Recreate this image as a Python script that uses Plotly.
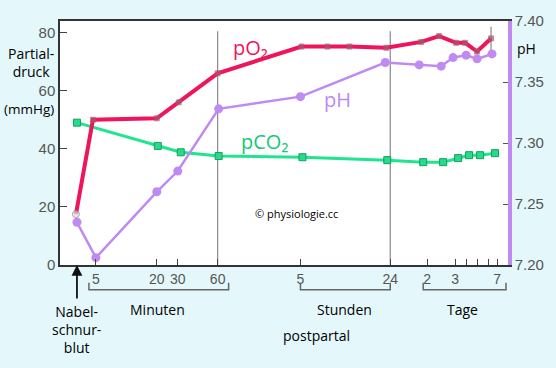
import plotly.graph_objects as go

# Compressed time axis positions (custom scale units)
tick_pos = [36, 97, 118, 158, 241, 331, 368, 396, 407, 418, 429, 438]
tick_txt = ["5", "20", "30", "60", "5", "24", "2", "3", "", "", "", "7"]
nabel_pos = 17
guide_lines = [158, 331]

# pO2 (mmHg)
po2_x = [16, 33, 97, 119, 158, 242, 268, 290, 327, 362, 380, 397, 406, 418, 432]
po2_y = [17.5, 50, 50.5, 56, 66, 75.2, 75.2, 75.2, 74.8, 76.8, 78.8, 76.5, 76.5, 73.5, 78]

# pH
ph_x = [17, 36, 97, 118, 159, 241, 326, 360, 382, 394, 407, 418, 433]
ph_y = [7.235, 7.206, 7.260, 7.277, 7.328, 7.338, 7.366, 7.364, 7.363, 7.370, 7.372, 7.369, 7.373]

# pCO2 (mmHg)
pco2_x = [17, 98, 121, 159, 243, 328, 364, 384, 399, 410, 421, 436]
pco2_y = [49, 41, 38.8, 37.5, 37.1, 36.1, 35.4, 35.4, 36.8, 37.8, 37.8, 38.5]

left_ticks = [0, 20, 40, 60, 80]
right_ticks = [7.20, 7.25, 7.30, 7.35, 7.40]

RED = "#f0145a"
PURPLE = "#bf8af2"
GREEN = "#1fe58f"
BG = "#e4f8fb"
FONT = "Open Sans"

fig = go.Figure()

fig.add_trace(go.Scatter(
    x=pco2_x, y=pco2_y, mode="lines+markers",
    line=dict(color=GREEN, width=3),
    marker=dict(symbol="square", size=7, color="#2ad98a", line=dict(color="#12a060", width=1)),
    showlegend=False))

fig.add_trace(go.Scatter(
    x=ph_x, y=ph_y, mode="lines+markers", yaxis="y2",
    line=dict(color=PURPLE, width=2.5),
    marker=dict(symbol="circle", size=9, color=PURPLE),
    showlegend=False))

po2_sym = ["circle"] + ["square"] * (len(po2_x) - 1)
po2_col = ["#dddddd"] + ["#a8566e"] * (len(po2_x) - 1)
po2_lc = ["#888888"] + ["#a8566e"] * (len(po2_x) - 1)
fig.add_trace(go.Scatter(
    x=po2_x, y=po2_y, mode="lines+markers",
    line=dict(color=RED, width=4),
    marker=dict(symbol=po2_sym, size=[7] + [5] * (len(po2_x) - 1), color=po2_col,
                line=dict(color=po2_lc, width=1)),
    showlegend=False))

shapes = []
for gx in guide_lines:
    shapes.append(dict(type="line", xref="x", yref="y", x0=gx, x1=gx, y0=0, y1=80.5,
                       line=dict(color="#8a8a8a", width=1.2), layer="below"))
shapes.append(dict(type="line", xref="x", yref="y", x0=po2_x[-1], x1=po2_x[-1], y0=73, y1=82,
                   line=dict(color="#8a8a8a", width=1.2), layer="below"))

def bracket(x0, x1):
    return dict(type="path", xref="x", yref="paper",
                path=f"M {x0},-0.073 L {x0},-0.101 L {x1},-0.101 L {x1},-0.073",
                line=dict(color="#666666", width=1.5))

shapes += [bracket(29, 169), bracket(241, 331), bracket(364, 447)]

def py(p):
    return (265 - p) / 248

def px(p):
    return (p - 60) / 449

def ann(text, x, y, size=14, color="black", xref="x", yref="paper"):
    return dict(text=text, x=x, y=y, xref=xref, yref=yref, showarrow=False,
                xanchor="center", yanchor="middle",
                font=dict(family=FONT, size=size, color=color))

annotations = [
    ann("Minuten", 98, py(310)),
    ann("Stunden", 285, py(310)),
    ann("Tage", 403, py(310)),
    ann("postpartal", 257, py(337)),
    ann("Nabel-<br>schnur-<br>blut", nabel_pos, py(331)),
    ann("pO₂", 191, 74.8, size=20, color=RED, yref="y"),
    ann("pH", 278, 57, size=20, color=PURPLE, yref="y"),
    ann("pCO₂", 205, 42.5, size=20, color="#14c97a", yref="y"),
    ann("© physiologie.cc", 237, 17.8, size=11, yref="y"),
    dict(text="", x=nabel_pos, y=0, xref="x", yref="paper", showarrow=True,
         ax=0, ay=35, arrowhead=2, arrowsize=1.2, arrowwidth=1.8, arrowcolor="#111111"),
    ann("Partial-<br>druck", px(31), py(59), xref="paper"),
    ann("(mmHg)", px(29), py(106), size=13.5, xref="paper"),
    ann("pH", px(528), py(45), xref="paper"),
]

fig.update_layout(
    width=556, height=368,
    margin=dict(l=60, r=47, t=17, b=103),
    paper_bgcolor=BG, plot_bgcolor="white",
    font=dict(family="Liberation Sans", size=14, color="#555555"),
    xaxis=dict(range=[0, 449], tickvals=tick_pos, ticktext=tick_txt,
               ticks="inside", ticklen=6, tickcolor="#444444", tickwidth=1,
               showline=True, linecolor="#333333", linewidth=1.5, mirror=True,
               showgrid=False, zeroline=False, tickfont=dict(size=14, color="#555555")),
    yaxis=dict(range=[0, 84], tickvals=left_ticks, ticks="inside", ticklen=7,
               tickcolor="#444444", showline=True, linecolor="#333333", linewidth=1.5,
               showgrid=False, zeroline=False, tickfont=dict(size=15, color="#555555")),
    yaxis2=dict(range=[7.20, 7.40], overlaying="y", side="right", tickvals=right_ticks,
                tickformat=".2f", ticks="inside", ticklen=5, tickcolor="#555555",
                showline=True, linecolor=PURPLE, linewidth=3.5, showgrid=False,
                zeroline=False, tickfont=dict(size=15, color="#555555")),
    shapes=shapes, annotations=annotations,
)

fig.write_html("out.html", config={"displayModeBar": False},
               post_script="document.body.style.margin='0';document.body.style.overflow='hidden';")
